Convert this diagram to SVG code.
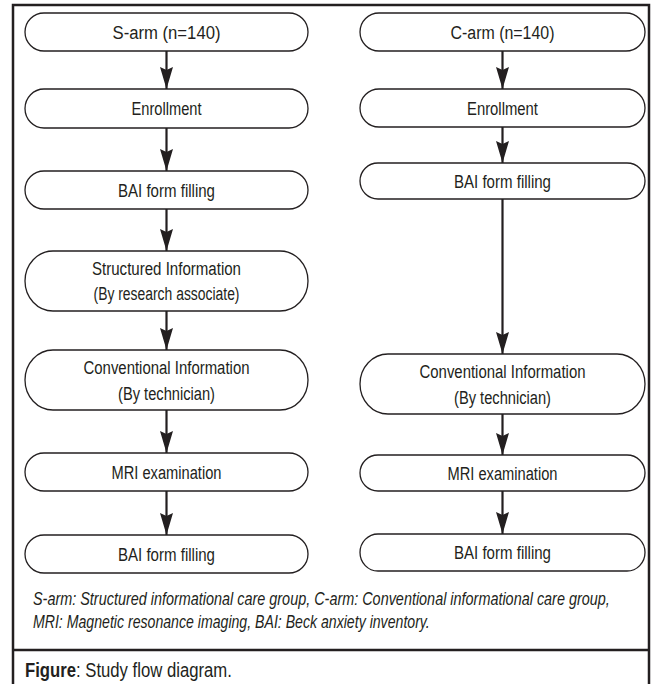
<svg xmlns="http://www.w3.org/2000/svg" width="654" height="684" viewBox="0 0 654 684">
<defs>
<style>
.box{fill:#fff;stroke:#231f20;stroke-width:1.3}
.t{font-family:"Liberation Sans",Arial,sans-serif;font-size:18px;fill:#231f20;text-anchor:middle}
.n{font-family:"Liberation Sans",Arial,sans-serif;font-size:18px;fill:#231f20;font-style:italic}
.c{font-family:"Liberation Sans",Arial,sans-serif;font-size:20px;fill:#231f20}
.ln{stroke:#231f20;stroke-width:2.2;fill:none}
</style>
<marker id="ah" markerWidth="22" markerHeight="13" refX="22" refY="6.5" orient="auto" markerUnits="userSpaceOnUse" viewBox="0 0 22 13">
<path d="M0,0 L22,6.5 L0,13 L3,6.5 Z" fill="#231f20"/>
</marker>
</defs>
<rect width="654" height="684" fill="#fff"/>
<path d="M13,690 V5 H649 V690" fill="none" stroke="#231f20" stroke-width="2.5"/>
<line x1="13" y1="650" x2="649" y2="650" stroke="#231f20" stroke-width="2.5"/>

<g id="connectors">
<line class="ln" x1="166.5" y1="51" x2="166.5" y2="89" marker-end="url(#ah)"/>
<line class="ln" x1="166.5" y1="128" x2="166.5" y2="171" marker-end="url(#ah)"/>
<line class="ln" x1="166.5" y1="209" x2="166.5" y2="251" marker-end="url(#ah)"/>
<line class="ln" x1="166.5" y1="311" x2="166.5" y2="350" marker-end="url(#ah)"/>
<line class="ln" x1="166.5" y1="410" x2="166.5" y2="453" marker-end="url(#ah)"/>
<line class="ln" x1="166.5" y1="491" x2="166.5" y2="535" marker-end="url(#ah)"/>
<line class="ln" x1="502.5" y1="51" x2="502.5" y2="89" marker-end="url(#ah)"/>
<line class="ln" x1="502.5" y1="127" x2="502.5" y2="163" marker-end="url(#ah)"/>
<line class="ln" x1="502.5" y1="199" x2="502.5" y2="354" marker-end="url(#ah)"/>
<line class="ln" x1="502.5" y1="414" x2="502.5" y2="455" marker-end="url(#ah)"/>
<line class="ln" x1="502.5" y1="491" x2="502.5" y2="534" marker-end="url(#ah)"/>
</g>

<g id="s-arm"><rect class="box" x="25" y="13" width="283" height="38" rx="19" ry="19"/><text class="t" x="166.5" y="38.5" textLength="108" lengthAdjust="spacingAndGlyphs">S-arm (n=140)</text></g>
<g id="s-enroll"><rect class="box" x="25" y="89" width="283" height="39" rx="19" ry="19.5"/><text class="t" x="166.5" y="115" textLength="70" lengthAdjust="spacingAndGlyphs">Enrollment</text></g>
<g id="s-bai1"><rect class="box" x="25" y="171" width="283" height="38" rx="19" ry="19"/><text class="t" x="166.5" y="196.5" textLength="97" lengthAdjust="spacingAndGlyphs">BAI form filling</text></g>
<g id="s-structured"><rect class="box" x="25" y="251" width="283" height="60" rx="28" ry="30"/><text class="t" x="166.5" y="274.5" textLength="149" lengthAdjust="spacingAndGlyphs">Structured Information</text><text class="t" x="166.5" y="299.5" textLength="146" lengthAdjust="spacingAndGlyphs">(By research associate)</text></g>
<g id="s-conventional"><rect class="box" x="25" y="350" width="283" height="60" rx="28" ry="30"/><text class="t" x="166.5" y="373.5" textLength="166" lengthAdjust="spacingAndGlyphs">Conventional Information</text><text class="t" x="166.5" y="400" textLength="97" lengthAdjust="spacingAndGlyphs">(By technician)</text></g>
<g id="s-mri"><rect class="box" x="25" y="453" width="283" height="38" rx="19" ry="19"/><text class="t" x="166.5" y="478.5" textLength="110" lengthAdjust="spacingAndGlyphs">MRI examination</text></g>
<g id="s-bai2"><rect class="box" x="25" y="535" width="283" height="38" rx="19" ry="19"/><text class="t" x="166.5" y="560.5" textLength="97" lengthAdjust="spacingAndGlyphs">BAI form filling</text></g>

<g id="c-arm"><rect class="box" x="360" y="13" width="285" height="38" rx="19" ry="19"/><text class="t" x="502.5" y="38.5" textLength="104" lengthAdjust="spacingAndGlyphs">C-arm (n=140)</text></g>
<g id="c-enroll"><rect class="box" x="360" y="89" width="285" height="38" rx="19" ry="19"/><text class="t" x="502.5" y="114.5" textLength="71" lengthAdjust="spacingAndGlyphs">Enrollment</text></g>
<g id="c-bai1"><rect class="box" x="360" y="163" width="285" height="36" rx="18" ry="18"/><text class="t" x="502.5" y="187.5" textLength="97" lengthAdjust="spacingAndGlyphs">BAI form filling</text></g>
<g id="c-conventional"><rect class="box" x="360" y="354" width="285" height="60" rx="28" ry="30"/><text class="t" x="502.5" y="378" textLength="166" lengthAdjust="spacingAndGlyphs">Conventional Information</text><text class="t" x="502.5" y="404" textLength="97" lengthAdjust="spacingAndGlyphs">(By technician)</text></g>
<g id="c-mri"><rect class="box" x="360" y="455" width="285" height="36" rx="18" ry="18"/><text class="t" x="502.5" y="479.5" textLength="110" lengthAdjust="spacingAndGlyphs">MRI examination</text></g>
<g id="c-bai2"><rect class="box" x="360" y="534" width="285" height="37" rx="18" ry="18.5"/><text class="t" x="502.5" y="559" textLength="97" lengthAdjust="spacingAndGlyphs">BAI form filling</text></g>

<g id="notes" transform="scale(0.8,1)">
<text class="n" x="41.25" y="605" textLength="721" lengthAdjust="spacingAndGlyphs">S-arm: Structured informational care group, C-arm:  Conventional informational care group,</text>
<text class="n" x="41.25" y="628" textLength="496" lengthAdjust="spacingAndGlyphs">MRI: Magnetic resonance imaging, BAI: Beck anxiety inventory.</text>
</g>
<g id="caption" transform="scale(0.835,1)">
<text class="c" x="30" y="677"><tspan font-weight="bold">Figure</tspan>: Study flow diagram.</text>
</g>
</svg>
